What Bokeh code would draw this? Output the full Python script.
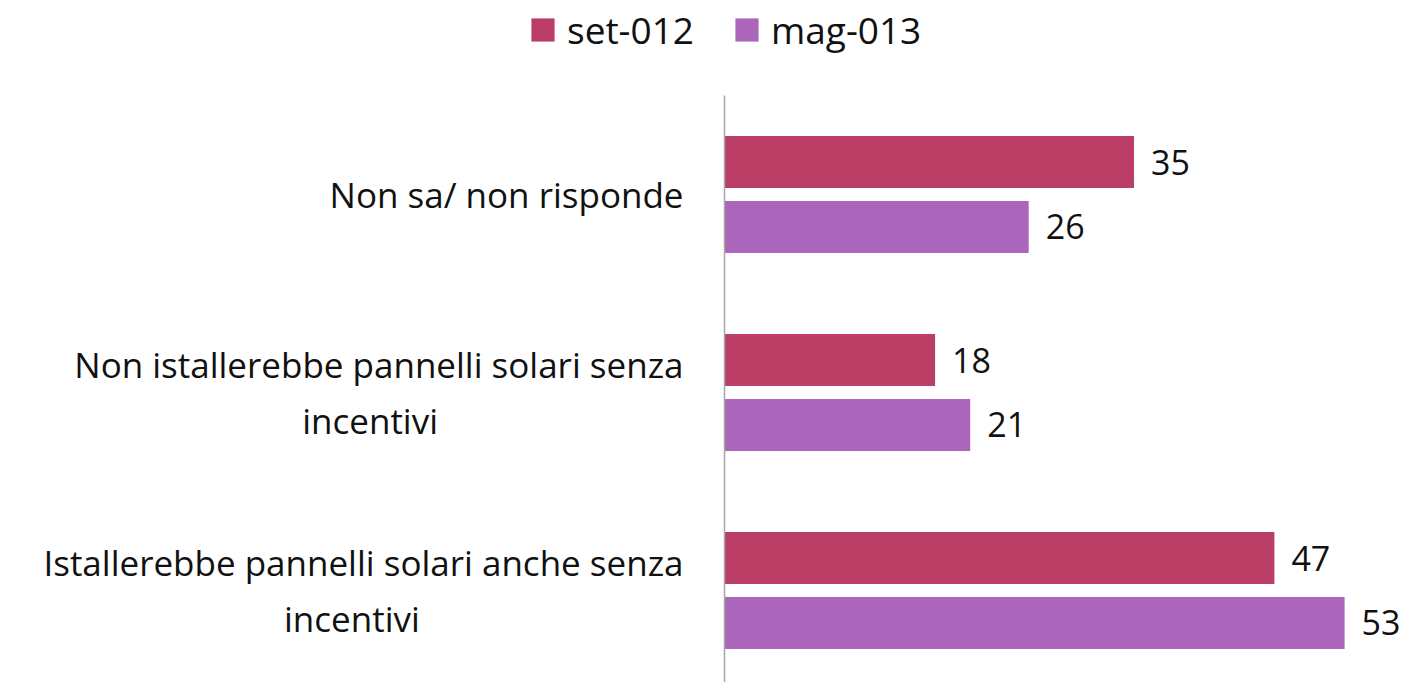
from bokeh.plotting import figure
from bokeh.layouts import column
from bokeh.models import Range1d, FixedTicker, ColumnDataSource, LabelSet, Legend, LegendItem
from bokeh.core.properties import value
from bokeh.embed import file_html
from bokeh.resources import INLINE

categories = [
    "Non sa/ non risponde",
    "Non istallerebbe pannelli solari senza\nincentivi",
    "Istallerebbe pannelli solari anche senza\nincentivi",
]
series_names = ["set-012", "mag-013"]
set_012 = [35, 18, 47]
mag_013 = [26, 21, 53]
colors = ["#BA3E66", "#AB66BB"]

FONT = "Open Sans"
FS = "34px"
CAT_FS = "35px"
TXT = "#111111"
W = 1406
TOP_H = 95
MAIN_H = 587
LEFT = 724
PX_PER_UNIT = 11.70
CAT_PX = 198

n = len(categories)
ypos = [n - i - 0.5 for i in range(n)]
off = 0.164
bar_h = 0.263


def centred_label(s):
    # centre the wrapped second line under the first one (right-aligned block)
    lines = s.split("\n")
    if len(lines) < 2:
        return s
    l1, l2 = lines
    pad = round(0.93 * (len(l1) - len(l2)))
    return l1 + "\n" + l2 + "\u00a0" * pad


src_a = ColumnDataSource(dict(y=[v + off for v in ypos], x=set_012, t=[str(v) for v in set_012]))
src_b = ColumnDataSource(dict(y=[v - off for v in ypos], x=mag_013, t=[str(v) for v in mag_013]))

p = figure(width=W, height=MAIN_H, output_backend="svg", toolbar_location=None,
           x_range=Range1d(0, (W - LEFT) / PX_PER_UNIT),
           y_range=Range1d(n - MAIN_H / CAT_PX, n),
           min_border_left=LEFT, min_border_right=0, min_border_top=0, min_border_bottom=0)
p.frame_align = False
p.title.visible = False
p.outline_line_color = None
p.xgrid.visible = False
p.ygrid.visible = False
p.xaxis.visible = False

p.hbar(y="y", right="x", left=0, height=bar_h, source=src_a, fill_color=colors[0], line_color=None)
p.hbar(y="y", right="x", left=0, height=bar_h, source=src_b, fill_color=colors[1], line_color=None)

for s in (src_a, src_b):
    p.add_layout(LabelSet(x="x", y="y", text="t", source=s, x_offset=17, text_baseline="middle",
                          text_font=value(FONT), text_font_size=FS, text_color=TXT))

ax = p.yaxis[0]
ax.ticker = FixedTicker(ticks=ypos)
ax.major_label_overrides = {y: centred_label(c) for y, c in zip(ypos, categories)}
ax.axis_line_color = "#A6A6A6"
ax.axis_line_width = 1.5
ax.major_tick_line_color = None
ax.minor_tick_line_color = None
ax.major_label_standoff = 35
ax.major_label_text_font = FONT
ax.major_label_text_font_size = CAT_FS
ax.major_label_text_color = TXT

# legend strip above the chart
lg = figure(width=W, height=TOP_H, output_backend="svg", toolbar_location=None,
            x_range=Range1d(0, 1), y_range=Range1d(0, 1),
            min_border_left=0, min_border_right=0, min_border_top=0, min_border_bottom=0)
lg.frame_align = False
lg.title.visible = False
lg.outline_line_color = None
lg.axis.visible = False
lg.grid.visible = False
items = []
for name, col in zip(series_names, colors):
    r = lg.hbar(y=[float("nan")], right=[float("nan")], left=0, height=0.5,
                fill_color=col, line_color=None)
    items.append(LegendItem(label=name, renderers=[r]))
legend = Legend(items=items, orientation="horizontal", location=(528, 40),
                glyph_width=29, glyph_height=29, label_standoff=10, spacing=38,
                padding=0, margin=0, border_line_alpha=0, background_fill_alpha=0,
                label_text_font=FONT, label_text_font_size="37px", label_text_color=TXT)
lg.add_layout(legend, "center")

page = column(lg, p, spacing=0)
open("out.html", "w").write(file_html(page, INLINE))
